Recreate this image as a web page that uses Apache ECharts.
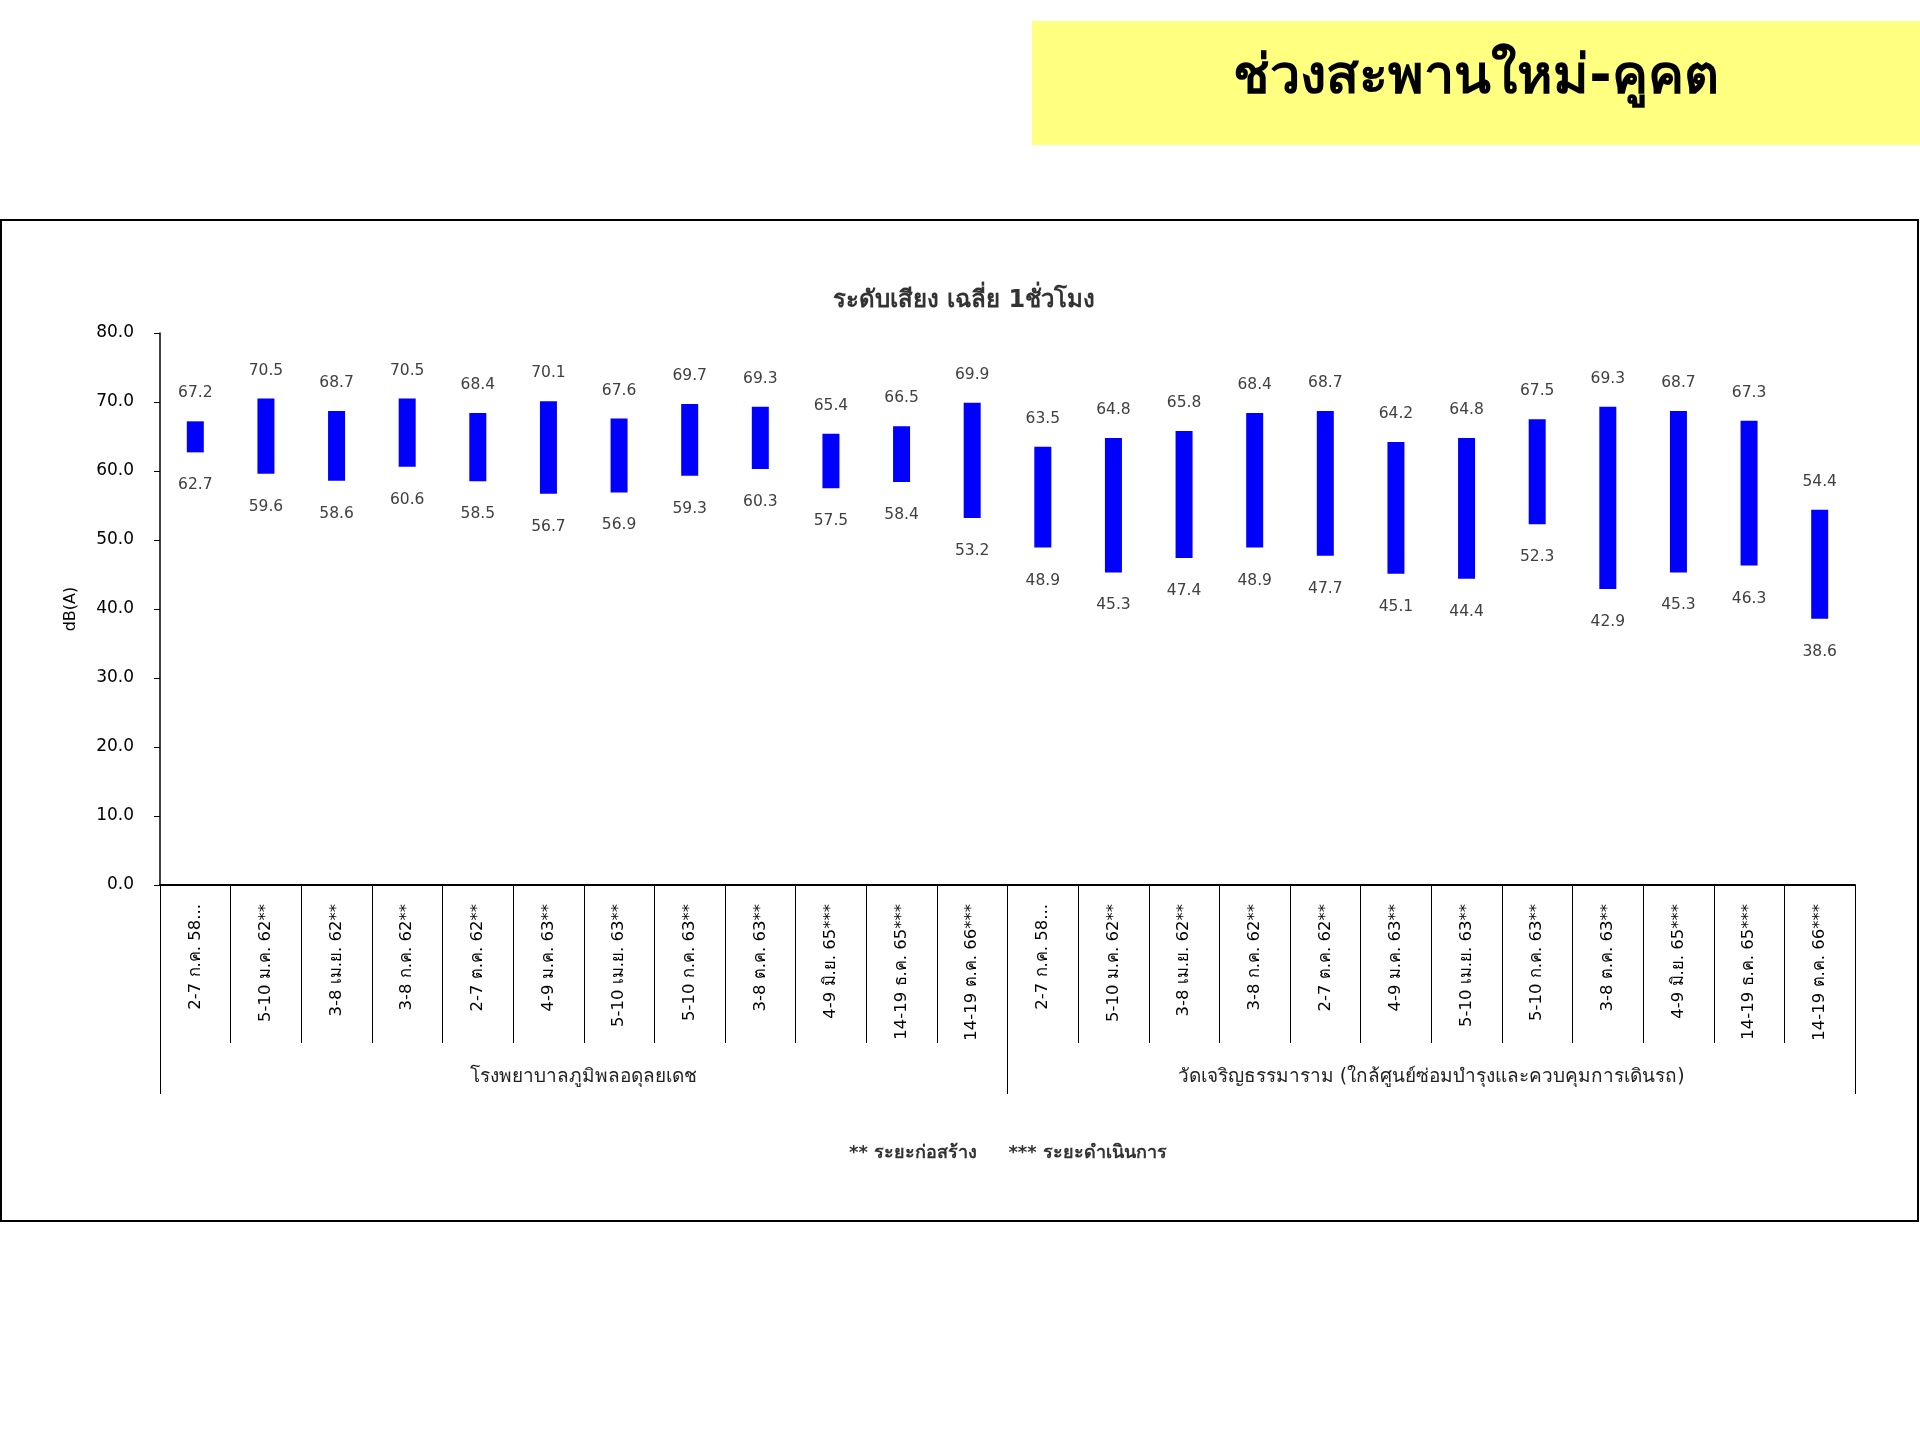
<!DOCTYPE html>
<html>
<head>
<meta charset="utf-8">
<script src="https://cdn.jsdelivr.net/npm/echarts@6/dist/echarts.min.js"></script>
<style>
  html, body { margin: 0; padding: 0; background: #fff; }
  #chart { width: 1920px; height: 1440px; }
</style>
</head>
<body>
<div id="chart"></div>
<script>
const categories = [
  "2-7 ก.ค. 58...", "5-10 ม.ค. 62**", "3-8 เม.ย. 62**", "3-8 ก.ค. 62**", "2-7 ต.ค. 62**", "4-9 ม.ค. 63**",
  "5-10 เม.ย. 63**", "5-10 ก.ค. 63**", "3-8 ต.ค. 63**", "4-9 มิ.ย. 65***", "14-19 ธ.ค. 65***", "14-19 ต.ค. 66***",
  "2-7 ก.ค. 58...", "5-10 ม.ค. 62**", "3-8 เม.ย. 62**", "3-8 ก.ค. 62**", "2-7 ต.ค. 62**", "4-9 ม.ค. 63**",
  "5-10 เม.ย. 63**", "5-10 ก.ค. 63**", "3-8 ต.ค. 63**", "4-9 มิ.ย. 65***", "14-19 ธ.ค. 65***", "14-19 ต.ค. 66***"
];
const groups = [
  "โรงพยาบาลภูมิพลอดุลยเดช",
  "วัดเจริญธรรมาราม (ใกล้ศูนย์ซ่อมบำรุงและควบคุมการเดินรถ)"
];
const highValues = [67.2, 70.5, 68.7, 70.5, 68.4, 70.1, 67.6, 69.7, 69.3, 65.4, 66.5, 69.9,
                    63.5, 64.8, 65.8, 68.4, 68.7, 64.2, 64.8, 67.5, 69.3, 68.7, 67.3, 54.4];
const lowValues  = [62.7, 59.6, 58.6, 60.6, 58.5, 56.7, 56.9, 59.3, 60.3, 57.5, 58.4, 53.2,
                    48.9, 45.3, 47.4, 48.9, 47.7, 45.1, 44.4, 52.3, 42.9, 45.3, 46.3, 38.6];
const yTicks = { min: 0, max: 80, interval: 10 };
const pageTitle = "ช่วงสะพานใหม่-คูคต";
const chartTitle = "ระดับเสียง เฉลี่ย 1ชั่วโมง";
const footnote = "** ระยะก่อสร้าง     *** ระยะดำเนินการ";
const yName = "dB(A)";

const rangeValues = highValues.map((h, i) => +(h - lowValues[i]).toFixed(1));
const FONT = "Tahoma, 'DejaVu Sans', 'Noto Sans', sans-serif";

const chart = echarts.init(document.getElementById('chart'));
chart.setOption({
  animation: false,
  backgroundColor: '#ffffff',
  textStyle: { fontFamily: FONT },
  graphic: [
    { type: 'rect', z: 0, shape: { x: 1032, y: 21, width: 888, height: 124 }, style: { fill: '#ffff80' } },
    { type: 'rect', z: 0, shape: { x: 1, y: 220, width: 1917, height: 1001 }, style: { fill: 'none', stroke: '#000', lineWidth: 2 } }
  ],
  title: [
    { text: pageTitle, left: 1471, top: 74, textAlign: 'center', textVerticalAlign: 'middle',
      textStyle: { fontSize: 54, fontWeight: 'bold', color: '#000', fontFamily: FONT } },
    { text: chartTitle, left: 959, top: 296, textAlign: 'center', textVerticalAlign: 'middle',
      textStyle: { fontSize: 24, fontWeight: 'bold', color: '#333', fontFamily: FONT } },
    { text: footnote, left: 1003, top: 1148, textAlign: 'center', textVerticalAlign: 'middle',
      textStyle: { fontSize: 18, fontWeight: 'bold', color: '#333', fontFamily: FONT } }
  ],
  grid: { left: 160, right: 65, top: 333, bottom: 555, containLabel: false },
  xAxis: [
    {
      type: 'category', data: categories, position: 'bottom',
      axisLine: { show: true, lineStyle: { color: '#000', width: 2 } },
      axisTick: { show: true, interval: 0, length: 158, lineStyle: { color: '#000', width: 1 } },
      axisLabel: { interval: 0, rotate: 90, margin: 19, fontSize: 16.5, color: '#000', fontFamily: FONT }
    },
    {
      type: 'category', data: groups, position: 'bottom', gridIndex: 0,
      axisLine: { show: false },
      axisTick: { show: true, interval: 0, length: 209, lineStyle: { color: '#000', width: 1 } },
      axisLabel: { interval: 0, margin: 183, fontSize: 19, color: '#222', fontFamily: FONT }
    }
  ],
  yAxis: {
    type: 'value', min: yTicks.min, max: yTicks.max, interval: yTicks.interval,
    name: yName, nameLocation: 'middle', nameGap: 81, nameRotate: 90,
    nameTextStyle: { fontSize: 16, color: '#000', fontFamily: FONT },
    axisLine: { show: true, lineStyle: { color: '#000', width: 1.5 } },
    axisTick: { show: true, length: 6, lineStyle: { color: '#000' } },
    splitLine: { show: false },
    axisLabel: { margin: 26, fontSize: 17, color: '#000', fontFamily: FONT, formatter: v => v.toFixed(1) }
  },
  series: [
    {
      type: 'bar', stack: 'range', xAxisIndex: 0, data: lowValues, barWidth: 17,
      itemStyle: { color: 'transparent' },
      label: { show: true, position: 'insideTop', distance: 25, color: '#404040', fontSize: 15.5, fontFamily: FONT,
               formatter: p => lowValues[p.dataIndex].toFixed(1) },
      emphasis: { disabled: true }
    },
    {
      type: 'bar', stack: 'range', xAxisIndex: 0, data: rangeValues, barWidth: 17,
      itemStyle: { color: '#0000ff' },
      label: { show: true, position: 'top', distance: 20, color: '#404040', fontSize: 15.5, fontFamily: FONT,
               formatter: p => highValues[p.dataIndex].toFixed(1) },
      emphasis: { disabled: true }
    }
  ]
});
</script>
</body>
</html>
